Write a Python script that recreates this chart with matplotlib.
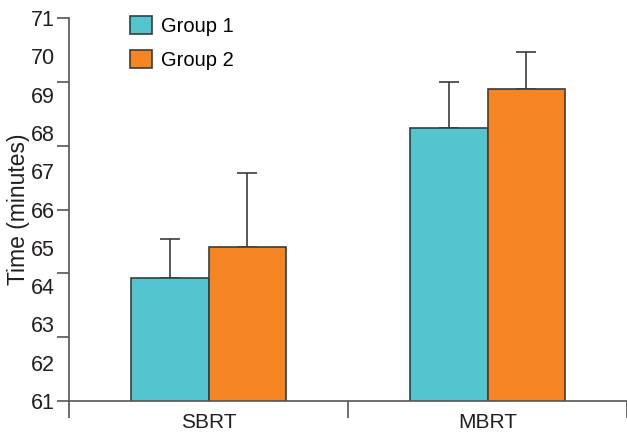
""" Time per group, SBRT vs MBRT """

import numpy as np
import matplotlib.pyplot as plt
from matplotlib.ticker import FixedLocator

# Data
categorias = ['SBRT', 'MBRT']
grupos = ['Group 1', 'Group 2']
media_g1 = [64.2, 68.13]
media_g2 = [65.02, 69.15]
erro_g1 = [1.02, 1.2]
erro_g2 = [1.93, 0.96]
y_labels = [61, 62, 63, 64, 65, 66, 67, 68, 69, 70, 71]

cor_g1 = '#52C5CE'
cor_g2 = '#F58423'
cor_linha = '#3c3c3c'
cor_eixo = '#555555'
cor_texto = '#231f20'

plt.rcParams['font.family'] = ['Liberation Sans', 'DejaVu Sans']

fig = plt.figure(figsize=(6.27, 4.37), dpi=100)
ax = fig.add_axes([69 / 627, 1 - 401 / 437, 1 - 69 / 627, (401 - 18) / 437])

x = np.arange(len(categorias))
largura = 0.279

ax.bar(x - largura / 2, media_g1, largura, color=cor_g1,
       edgecolor=cor_linha, linewidth=1.2, label=grupos[0], zorder=2)
ax.bar(x + largura / 2, media_g2, largura, color=cor_g2,
       edgecolor=cor_linha, linewidth=1.2, label=grupos[1], zorder=2)

ax.errorbar(x - largura / 2, media_g1, yerr=[np.zeros(2), erro_g1], fmt='none',
            ecolor=cor_linha, elinewidth=1.2, capsize=7, capthick=1.2, zorder=1)
ax.errorbar(x + largura / 2, media_g2, yerr=[np.zeros(2), erro_g2], fmt='none',
            ecolor=cor_linha, elinewidth=1.2, capsize=7, capthick=1.2, zorder=1)

ax.set_ylim(61, 71)
ax.set_xlim(-0.5, 1.5)

# y: rotulos nos inteiros, marcas dividem a faixa em 6
ax.yaxis.remove_overlapping_locs = False
ax.set_yticks(y_labels)
ax.set_yticklabels([str(v) for v in y_labels])
ax.yaxis.set_minor_locator(FixedLocator(np.linspace(61, 71, 7)))
ax.tick_params(axis='y', which='major', length=0, pad=10, labelsize=15.5,
               labelcolor=cor_texto)
ax.tick_params(axis='y', which='minor', length=9, width=1.2, color=cor_eixo)

# x: rotulos nas categorias, marcas entre elas
ax.xaxis.remove_overlapping_locs = False
ax.set_xticks(x)
ax.set_xticklabels(categorias)
ax.xaxis.set_minor_locator(FixedLocator([-0.5, 0.5, 1.5]))
ax.tick_params(axis='x', which='major', length=0, pad=9, labelsize=15,
               labelcolor=cor_texto)
ax.tick_params(axis='x', which='minor', length=12, width=1.2, color=cor_eixo)

for lado in ['top', 'right']:
    ax.spines[lado].set_visible(False)
for lado in ['left', 'bottom']:
    ax.spines[lado].set_color(cor_eixo)
    ax.spines[lado].set_linewidth(1.2)

ax.set_ylabel('Time (minutes)', fontsize=16.5, color=cor_texto, labelpad=1)

ax.legend(loc='upper left', bbox_to_anchor=(130 / 627, 1 - 16 / 437),
          bbox_transform=fig.transFigure, frameon=False, fontsize=14.5,
          handlelength=1.1, handleheight=1.0, handletextpad=0.45,
          labelspacing=0.7, borderpad=0, borderaxespad=0)

plt.savefig('out.png', dpi=100)
